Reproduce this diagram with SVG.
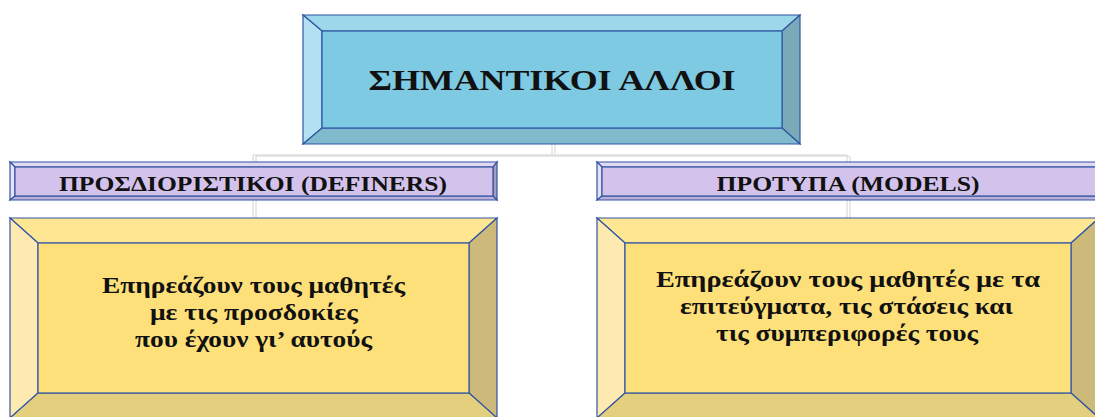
<svg xmlns="http://www.w3.org/2000/svg" width="1095" height="417" viewBox="0 0 1095 417">
<style>
.edge{stroke:#d2d2d2;stroke-width:1;fill:none}
.bv{stroke:#2f55a4;stroke-width:1.2;stroke-linejoin:miter}
.t{font-family:"Liberation Serif","DejaVu Serif",serif;font-weight:bold;fill:#111;text-anchor:middle}
.b-in{fill:#7ecae3}.b-t{fill:#9dd7ea}.b-l{fill:#b4e1f1}.b-r{fill:#7aa9b8}.b-b{fill:#7fbbcd}
.p-in{fill:#d3c3ec}.p-t{fill:#e2d8f4}.p-l{fill:#e8e0f7}.p-r{fill:#aa9cc0}.p-b{fill:#bdb0d6}
.y-in{fill:#fde07a}.y-t{fill:#fee693}.y-l{fill:#feeab0}.y-r{fill:#cdb97a}.y-b{fill:#e4cf7f}
</style>
<g id="connectors">
<path class="edge" d="M552 144V155M253 155H847M253 155V218M847 155V218"/>
<path class="edge" d="M555 144V154M256 156H849M256 156V218M850 156V218" stroke="#e6e6e6"/>
</g>
<g id="node-main">
<polygon class="b-t bv" points="303,15 800,15 782,31 322,31"/>
<polygon class="b-l bv" points="303,15 322,31 322,128 303,144"/>
<polygon class="b-r bv" points="800,15 800,144 782,128 782,31"/>
<polygon class="b-b bv" points="303,144 322,128 782,128 800,144"/>
<rect class="b-in bv" x="322" y="31" width="460" height="97"/>
<text class="t" x="552" y="90" font-size="30" textLength="367" lengthAdjust="spacingAndGlyphs">ΣΗΜΑΝΤΙΚΟΙ ΑΛΛΟΙ</text>
</g>
<g id="node-definers">
<polygon class="p-t bv" points="10,162 497,162 493,167 15,167"/>
<polygon class="p-l bv" points="10,162 15,167 15,196 10,200"/>
<polygon class="p-r bv" points="497,162 497,200 493,196 493,167"/>
<polygon class="p-b bv" points="10,200 15,196 493,196 497,200"/>
<rect class="p-in bv" x="15" y="167" width="478" height="29"/>
<text class="t" x="253" y="191" font-size="20" textLength="388" lengthAdjust="spacingAndGlyphs">ΠΡΟΣΔΙΟΡΙΣΤΙΚΟΙ (DEFINERS)</text>
</g>
<g id="node-models">
<polygon class="p-t bv" points="597,162 1100,162 1096,167 602,167"/>
<polygon class="p-l bv" points="597,162 602,167 602,196 597,200"/>
<polygon class="p-r bv" points="1100,162 1100,200 1096,196 1096,167"/>
<polygon class="p-b bv" points="597,200 602,196 1096,196 1100,200"/>
<rect class="p-in bv" x="602" y="167" width="494" height="29"/>
<text class="t" x="848" y="191" font-size="20" textLength="263" lengthAdjust="spacingAndGlyphs">ΠΡΟΤΥΠΑ (MODELS)</text>
</g>
<g id="node-definers-desc">
<polygon class="y-t bv" points="10,218 497,218 469,243 38,243"/>
<polygon class="y-l bv" points="10,218 38,243 38,393 10,418"/>
<polygon class="y-r bv" points="497,218 497,418 469,393 469,243"/>
<polygon class="y-b bv" points="10,418 38,393 469,393 497,418"/>
<rect class="y-in bv" x="38" y="243" width="431" height="150"/>
<text class="t" font-size="22.5" lengthAdjust="spacingAndGlyphs"><tspan x="253.5" y="293" textLength="303" lengthAdjust="spacingAndGlyphs">Επηρεάζουν τους μαθητές</tspan><tspan x="254" y="320" textLength="208" lengthAdjust="spacingAndGlyphs">με τις προσδοκίες</tspan><tspan x="253.5" y="347" textLength="237" lengthAdjust="spacingAndGlyphs">που έχουν γι’ αυτούς</tspan></text>
</g>
<g id="node-models-desc">
<polygon class="y-t bv" points="597,218 1099,218 1071,243 625,243"/>
<polygon class="y-l bv" points="597,218 625,243 625,393 597,418"/>
<polygon class="y-r bv" points="1099,218 1099,418 1071,393 1071,243"/>
<polygon class="y-b bv" points="597,418 625,393 1071,393 1099,418"/>
<rect class="y-in bv" x="625" y="243" width="446" height="150"/>
<text class="t" font-size="22.5"><tspan x="848" y="287" textLength="384" lengthAdjust="spacingAndGlyphs">Επηρεάζουν τους μαθητές με τα</tspan><tspan x="846.5" y="314" textLength="333" lengthAdjust="spacingAndGlyphs">επιτεύγματα, τις στάσεις και</tspan><tspan x="847" y="341" textLength="262" lengthAdjust="spacingAndGlyphs">τις συμπεριφορές τους</tspan></text>
</g>
</svg>
